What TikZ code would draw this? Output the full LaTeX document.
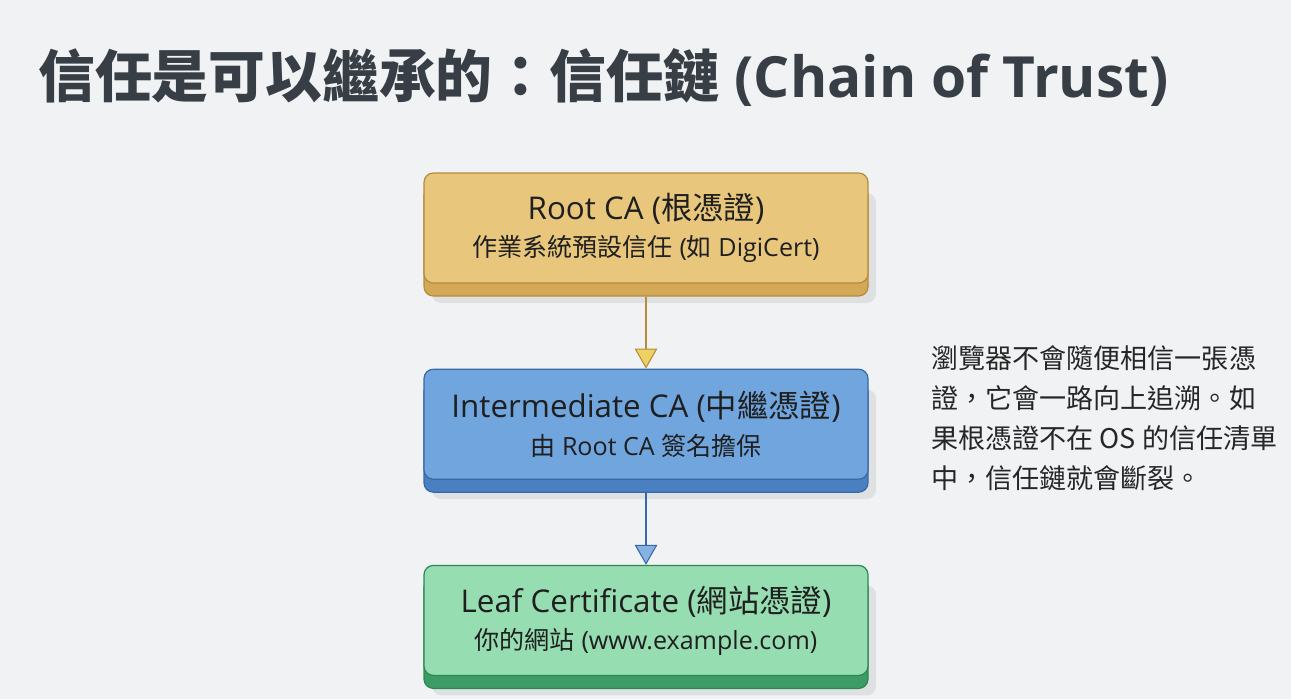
\documentclass[tikz,border=0pt]{standalone}
\usepackage{fontspec}
\setmainfont{Open Sans}
\newfontfamily\cjk{Noto Sans CJK TC}
\usetikzlibrary{positioning,arrows.meta,calc}
\definecolor{bgcol}{HTML}{F1F2F4}
\definecolor{titlecol}{HTML}{383E45}
\definecolor{rootfill}{HTML}{E8C77C}
\definecolor{rootband}{HTML}{D3A857}
\definecolor{rootline}{HTML}{B48C3C}
\definecolor{interfill}{HTML}{70A5DD}
\definecolor{interband}{HTML}{4A80C2}
\definecolor{interline}{HTML}{3668A6}
\definecolor{leaffill}{HTML}{96DDB2}
\definecolor{leafband}{HTML}{3D9C66}
\definecolor{leafline}{HTML}{2D8753}
\newcommand{\subline}{\fontsize{18.8}{22}\selectfont}

\begin{document}
\begin{tikzpicture}
	\tikzstyle{cabox}=[rectangle, rounded corners=7pt, minimum width=333pt, minimum height=82.5pt, align=center, line width=0.9pt, text=black!88, font=\fontsize{23.5}{28}\selectfont, preaction={fill=black, opacity=0.07, transform canvas={xshift=6pt, yshift=-15pt}}]
	\tikzstyle{rootbox}=[cabox, preaction={fill=rootband, draw=rootline, transform canvas={yshift=-9.75pt}}, fill=rootfill, draw=rootline]
	\tikzstyle{interbox}=[cabox, preaction={fill=interband, draw=interline, transform canvas={yshift=-9.75pt}}, fill=interfill, draw=interline]
	\tikzstyle{leafbox}=[cabox, preaction={fill=leafband, draw=leafline, transform canvas={yshift=-9.75pt}}, fill=leaffill, draw=leafline]
	\tikzstyle{link}=[line width=1.4pt]
	\fill[bgcol] (0,0) rectangle (968.25pt,-524.25pt);
	\node[anchor=west, inner sep=0, text=titlecol, font=\bfseries\fontsize{42.6}{50}\selectfont] (title) at (28.5pt,-58.5pt) {{\cjk 信任是可以繼承的：信任鏈} (Chain of Trust)};
	\node[rootbox] (root) at (484.5pt,-171pt) {Root CA ({\cjk 根憑證})\\{\subline{\cjk 作業系統預設信任} ({\cjk 如} DigiCert)}};
	\node[interbox, below=63.75pt of root] (inter) {Intermediate CA ({\cjk 中繼憑證})\\{\subline{\cjk 由} Root CA {\cjk 簽名擔保}}};
	\node[leafbox, below=63.75pt of inter] (leaf) {Leaf Certificate ({\cjk 網站憑證})\\{\subline{\cjk 你的網站} (www.example.com)}};
	\node[anchor=west, align=left, inner sep=0, text=black!85, font=\cjk\fontsize{20.3}{30}\selectfont] (note) at (698.25pt,-313.5pt) {瀏覽器不會隨便相信一張憑\\證，它會一路向上追溯。如\\果根憑證不在 OS 的信任清單\\中，信任鏈就會斷裂。};
	\draw[link, rootline, -{Triangle[width=17pt, length=15pt, fill=rootfill!80!yellow, line width=0.8pt]}] ($(root.south)+(0,-9.75pt)$) -- (inter.north);
	\draw[link, interline, -{Triangle[width=17pt, length=15pt, fill=interfill!85!white, line width=0.8pt]}] ($(inter.south)+(0,-9.75pt)$) -- (leaf.north);
\end{tikzpicture}
\end{document}
